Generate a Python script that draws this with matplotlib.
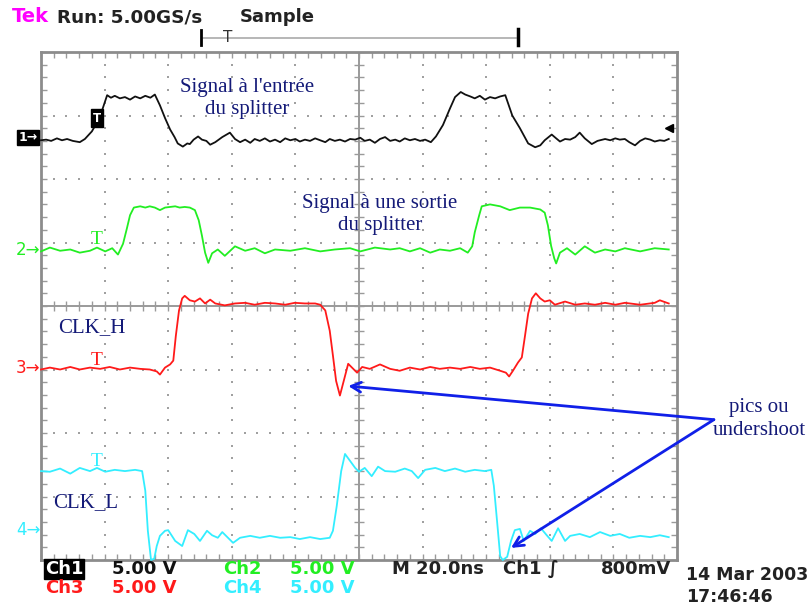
import matplotlib.pyplot as plt
from matplotlib.lines import Line2D
import numpy as np

# screen is 10 x 8 divisions, 20 ns/div, 5 V/div
# time in divisions from left edge, level in divisions from bottom edge
ch1_t = [0.00, 0.08, 0.16, 0.25, 0.33, 0.41, 0.50, 0.61, 0.69, 0.80, 0.88, 0.96, 1.04, 1.10, 1.16, 1.24,
         1.32, 1.40, 1.48, 1.56, 1.64, 1.72, 1.79, 1.87, 1.95, 2.03, 2.10, 2.15, 2.23, 2.30, 2.34, 2.40,
         2.47, 2.53, 2.60, 2.66, 2.74, 2.85, 2.97, 3.05, 3.13, 3.21, 3.29, 3.36, 3.44, 3.52, 3.60, 3.68,
         3.76, 3.84, 3.92, 4.00, 4.07, 4.15, 4.23, 4.31, 4.39, 4.47, 4.54, 4.62, 4.70, 4.78, 4.86, 4.94,
         5.02, 5.09, 5.17, 5.25, 5.33, 5.41, 5.49, 5.57, 5.64, 5.72, 5.80, 5.88, 5.96, 6.04, 6.13, 6.21,
         6.32, 6.43, 6.51, 6.60, 6.67, 6.75, 6.82, 6.90, 6.98, 7.06, 7.14, 7.22, 7.30, 7.41, 7.53, 7.66,
         7.77, 7.85, 7.92, 8.03, 8.10, 8.16, 8.24, 8.32, 8.40, 8.47, 8.55, 8.66, 8.75, 8.87, 8.95, 9.03,
         9.10, 9.18, 9.25, 9.34, 9.42, 9.50, 9.58, 9.65, 9.73, 9.80, 9.87]
ch1_v = [6.61, 6.62, 6.60, 6.64, 6.61, 6.63, 6.60, 6.58, 6.63, 6.75, 6.89, 7.08, 7.32, 7.28, 7.31, 7.27,
         7.29, 7.25, 7.30, 7.27, 7.31, 7.28, 7.33, 7.16, 6.96, 6.78, 6.66, 6.56, 6.51, 6.56, 6.55, 6.62,
         6.67, 6.62, 6.60, 6.54, 6.58, 6.66, 6.73, 6.63, 6.58, 6.62, 6.57, 6.63, 6.60, 6.64, 6.59, 6.62,
         6.58, 6.64, 6.61, 6.63, 6.59, 6.62, 6.60, 6.64, 6.61, 6.58, 6.63, 6.60, 6.62, 6.59, 6.63, 6.62,
         6.65, 6.60, 6.62, 6.57, 6.63, 6.66, 6.60, 6.62, 6.59, 6.64, 6.61, 6.63, 6.60, 6.62, 6.58, 6.67,
         6.85, 7.11, 7.29, 7.37, 7.33, 7.30, 7.27, 7.31, 7.25, 7.29, 7.27, 7.30, 7.32, 7.00, 6.80, 6.56,
         6.50, 6.53, 6.61, 6.70, 6.64, 6.59, 6.63, 6.62, 6.66, 6.73, 6.64, 6.55, 6.60, 6.63, 6.61, 6.64,
         6.62, 6.63, 6.58, 6.53, 6.60, 6.64, 6.62, 6.59, 6.61, 6.60, 6.63]

ch2_t = [0.00, 0.14, 0.30, 0.46, 0.61, 0.77, 0.88, 1.01, 1.12, 1.21, 1.29, 1.35, 1.40, 1.46, 1.56, 1.64,
         1.71, 1.79, 1.87, 1.95, 2.03, 2.11, 2.18, 2.26, 2.34, 2.42, 2.48, 2.53, 2.58, 2.63, 2.69, 2.78,
         2.89, 3.05, 3.21, 3.36, 3.52, 3.68, 3.92, 4.15, 4.39, 4.62, 4.86, 5.02, 5.25, 5.49, 5.64, 5.80,
         5.96, 6.12, 6.27, 6.43, 6.59, 6.71, 6.78, 6.82, 6.89, 6.93, 7.06, 7.22, 7.37, 7.53, 7.69, 7.85,
         7.92, 7.97, 8.02, 8.07, 8.10, 8.16, 8.27, 8.40, 8.55, 8.71, 8.87, 9.03, 9.18, 9.42, 9.65, 9.87]
ch2_v = [4.86, 4.92, 4.87, 4.89, 4.84, 4.87, 4.92, 4.86, 4.91, 4.81, 4.98, 5.22, 5.43, 5.55, 5.57, 5.55,
         5.57, 5.55, 5.51, 5.55, 5.56, 5.57, 5.55, 5.56, 5.55, 5.51, 5.35, 5.11, 4.84, 4.68, 4.83, 4.89,
         4.79, 4.94, 4.87, 4.91, 4.83, 4.89, 4.87, 4.91, 4.86, 4.89, 4.91, 4.86, 4.92, 4.89, 4.91, 4.86,
         4.91, 4.84, 4.89, 4.87, 4.91, 4.84, 4.94, 5.16, 5.43, 5.57, 5.60, 5.57, 5.51, 5.55, 5.55, 5.52,
         5.47, 5.27, 4.95, 4.75, 4.67, 4.84, 4.91, 4.81, 4.94, 4.84, 4.89, 4.86, 4.91, 4.86, 4.91, 4.89]

ch3_t = [0.00, 0.14, 0.30, 0.46, 0.61, 0.77, 0.93, 1.08, 1.24, 1.40, 1.56, 1.71, 1.82, 1.87, 1.95, 2.03,
         2.08, 2.12, 2.17, 2.22, 2.26, 2.34, 2.42, 2.50, 2.58, 2.66, 2.74, 2.89, 3.05, 3.21, 3.36, 3.52,
         3.68, 3.84, 3.99, 4.15, 4.31, 4.39, 4.47, 4.54, 4.59, 4.64, 4.70, 4.76, 4.83, 4.89, 4.97, 5.05,
         5.17, 5.33, 5.49, 5.64, 5.80, 5.96, 6.12, 6.27, 6.43, 6.59, 6.75, 6.90, 7.06, 7.22, 7.31, 7.36,
         7.42, 7.50, 7.56, 7.61, 7.66, 7.72, 7.78, 7.85, 7.92, 8.00, 8.08, 8.24, 8.40, 8.55, 8.71, 8.87,
         9.03, 9.18, 9.42, 9.65, 9.73, 9.87]
ch3_v = [3.00, 3.03, 3.00, 3.04, 3.00, 3.03, 3.01, 3.04, 3.00, 3.03, 3.01, 3.00, 2.97, 2.92, 3.03, 3.08,
         3.14, 3.53, 3.93, 4.12, 4.16, 4.09, 4.07, 4.12, 4.04, 4.10, 4.04, 4.01, 4.04, 4.05, 4.02, 4.05,
         4.04, 4.02, 4.05, 4.04, 4.04, 4.02, 3.93, 3.61, 3.22, 2.82, 2.59, 2.82, 3.09, 3.03, 2.95, 3.04,
         3.01, 3.08, 3.01, 2.98, 3.03, 3.00, 3.04, 3.01, 3.03, 3.01, 3.04, 3.01, 3.03, 2.98, 2.95, 2.89,
         2.98, 3.11, 3.19, 3.53, 3.88, 4.12, 4.20, 4.12, 4.07, 4.09, 4.02, 4.07, 4.02, 4.04, 4.02, 4.05,
         4.02, 4.05, 4.02, 4.05, 4.09, 4.04]

ch4_t = [0.00, 0.14, 0.30, 0.46, 0.61, 0.77, 0.88, 1.01, 1.16, 1.32, 1.48, 1.59, 1.64, 1.68, 1.73, 1.78,
         1.82, 1.87, 1.95, 2.00, 2.11, 2.22, 2.31, 2.41, 2.50, 2.61, 2.69, 2.78, 2.85, 2.94, 3.02, 3.13,
         3.29, 3.44, 3.60, 3.76, 3.92, 4.07, 4.23, 4.39, 4.54, 4.59, 4.65, 4.72, 4.78, 4.86, 4.94, 5.00,
         5.09, 5.20, 5.30, 5.41, 5.57, 5.72, 5.83, 5.93, 6.04, 6.20, 6.35, 6.51, 6.67, 6.82, 6.98, 7.08,
         7.12, 7.17, 7.22, 7.26, 7.33, 7.39, 7.45, 7.53, 7.59, 7.69, 7.77, 7.86, 7.96, 8.03, 8.13, 8.24,
         8.32, 8.47, 8.63, 8.79, 8.95, 9.10, 9.25, 9.42, 9.58, 9.73, 9.87]
ch4_v = [1.40, 1.39, 1.44, 1.36, 1.45, 1.40, 1.45, 1.39, 1.42, 1.40, 1.42, 1.40, 1.09, 0.46, 0.00, 0.02,
         0.22, 0.38, 0.46, 0.47, 0.30, 0.22, 0.47, 0.41, 0.30, 0.46, 0.39, 0.35, 0.44, 0.35, 0.27, 0.35,
         0.38, 0.35, 0.38, 0.35, 0.36, 0.33, 0.36, 0.33, 0.35, 0.46, 0.85, 1.40, 1.67, 1.56, 1.45, 1.39,
         1.45, 1.32, 1.47, 1.40, 1.39, 1.44, 1.40, 1.29, 1.42, 1.45, 1.40, 1.44, 1.39, 1.42, 1.40, 1.42,
         1.17, 0.62, 0.06, 0.00, 0.05, 0.30, 0.47, 0.49, 0.30, 0.46, 0.41, 0.50, 0.38, 0.30, 0.50, 0.30,
         0.38, 0.41, 0.36, 0.44, 0.38, 0.41, 0.35, 0.38, 0.36, 0.39, 0.36]

channels = ["1", "2", "3", "4"]
ch_colors = ["#111111", "#22ee22", "#ff1a1a", "#33eeff"]
ch_ground = [6.64, 4.87, 3.01, 0.46]
marker_top = [7.08, 5.18, 3.27, 1.69]
ch_labels = ["Ch1", "Ch2", "Ch3", "Ch4"]
ch_scales = ["5.00 V", "5.00 V", "5.00 V", "5.00 V"]

W, H = 812, 609
navy = "#141a78"
blue = "#1020e8"


def px(x, y):
    return x / W, 1 - y / H


fig = plt.figure(figsize=(W / 100, H / 100), dpi=100)
ax = fig.add_axes([41 / W, (H - 560) / H, 636 / W, 508 / H])
ax.set_xlim(0, 10)
ax.set_ylim(0, 8)

# graticule
sub = np.arange(0, 10.01, 0.2)
subv = np.arange(0, 8.01, 0.2)
for gx in range(1, 10):
    if gx != 5:
        ax.plot(np.full(len(subv), gx), subv, ls="none", marker="s", ms=1.5, color="#a0a0a0", mew=0)
for gy in range(1, 8):
    if gy != 4:
        ax.plot(sub, np.full(len(sub), gy), ls="none", marker="s", ms=1.5, color="#a0a0a0", mew=0)
ax.axvline(5, color="#9a9a9a", lw=1.4)
ax.axhline(4, color="#9a9a9a", lw=1.4)
ax.plot(sub, np.full(len(sub), 4), ls="none", marker="|", ms=7, color="#9a9a9a", mew=1)
ax.plot(np.full(len(subv), 5), subv, ls="none", marker="_", ms=7, color="#9a9a9a", mew=1)
ax.set_xticks(sub)
ax.set_yticks(subv)
ax.tick_params(direction="in", length=4, width=1, color="#9a9a9a", top=True, right=True,
               labelbottom=False, labelleft=False)
for s in ax.spines.values():
    s.set_color("#8c8c8c")
    s.set_linewidth(2)

# traces
traces = [(ch1_t, ch1_v), (ch2_t, ch2_v), (ch3_t, ch3_v), (ch4_t, ch4_v)]
for (t, v), c in zip(traces, ch_colors):
    ax.plot(t, v, color=c, lw=1.3, clip_on=False, zorder=3)

# trigger position markers
ax.text(0.88, 6.96, "T", color="white", fontsize=8.5, ha="center", va="center",
        fontweight="bold", bbox=dict(boxstyle="square,pad=0.2", fc="black", ec="black"), zorder=4)
for i in range(1, 4):
    ax.text(0.88, marker_top[i], "T", color=ch_colors[i], fontsize=14, ha="center", va="top",
            family="Liberation Serif", zorder=4)
ax.plot(9.87, 6.81, marker="<", ms=6, color="black", clip_on=False)

# channel ground markers
for i, ch in enumerate(channels):
    fx, fy = px(28, 559 - ch_ground[i] * 63.5)
    if i == 0:
        fig.text(fx, fy, ch + "\u2192", color="white", fontsize=9, fontweight="bold", ha="center",
                 va="center", bbox=dict(boxstyle="square,pad=0.1", fc="black", ec="black"))
    else:
        fig.text(fx, fy, ch + "\u2192", color=ch_colors[i], fontsize=12, ha="center", va="center")

# annotations
serif = dict(color=navy, fontsize=15, family="Liberation Serif")
ax.text(3.24, 7.27, "Signal à l'entrée\ndu splitter", ha="center", va="center", linespacing=1.22, **serif)
ax.text(5.33, 5.44, "Signal à une sortie\ndu splitter", ha="center", va="center", linespacing=1.22, **serif)
ax.text(0.27, 3.66, "CLK_H", ha="left", va="center", **serif)
ax.text(0.19, 0.90, "CLK_L", ha="left", va="center", **serif)
fig.text(*px(759, 419), "pics ou\nundershoot", ha="center", va="center", linespacing=1.22, **serif)

arrow = dict(arrowstyle="->,head_length=0.7,head_width=0.35", color=blue, lw=2, shrinkA=0, shrinkB=0)
ax.annotate("", xy=(4.83, 2.74), xytext=(10.58, 2.21), arrowprops=arrow, annotation_clip=False)
ax.annotate("", xy=(7.39, 0.19), xytext=(10.58, 2.21), arrowprops=arrow, annotation_clip=False)

# header
fig.text(*px(12, 17), "Tek", color="#ff00ff", fontsize=14, fontweight="bold", va="center")
fig.text(*px(57, 17), "Run: 5.00GS/s", color="#222222", fontsize=13.2, fontweight="bold", va="center")
fig.text(*px(240, 17), "Sample", color="#222222", fontsize=13, fontweight="bold", va="center")
fig.add_artist(Line2D([203 / W, 516 / W], [1 - 38 / H, 1 - 38 / H], color="#aaaaaa", lw=1.2))
fig.add_artist(Line2D([201 / W, 201 / W], [1 - 30 / H, 1 - 45 / H], color="black", lw=2))
fig.add_artist(Line2D([518 / W, 518 / W], [1 - 29 / H, 1 - 45 / H], color="black", lw=2.5))
fig.text(*px(228, 38), "T", color="#333333", fontsize=11, ha="center", va="center")

# footer
for i in range(4):
    ry = 569 if i < 2 else 588
    col_x = 45 if i in (0, 2) else 223
    kw = dict(fontsize=13, fontweight="bold", va="center", color=ch_colors[i])
    if i == 0:
        fig.text(*px(col_x, ry), ch_labels[i], color="white", fontsize=13, fontweight="bold", va="center",
                 bbox=dict(boxstyle="square,pad=0.05", fc="black", ec="black"))
    else:
        fig.text(*px(col_x, ry), ch_labels[i], **kw)
    fig.text(*px(col_x + 67, ry), ch_scales[i], **kw)
fig.text(*px(392, 569), "M 20.0ns", fontsize=13, fontweight="bold", va="center", color="#222222")
fig.text(*px(503, 569), "Ch1 \u222b", fontsize=13, fontweight="bold", va="center", color="#222222")
fig.text(*px(601, 569), "800mV", fontsize=13, fontweight="bold", va="center", color="#222222")
fig.text(*px(686, 575), "14 Mar 2003", fontsize=12.5, fontweight="bold", va="center", color="#222222")
fig.text(*px(686, 597), "17:46:46", fontsize=12.5, fontweight="bold", va="center", color="#222222")

fig.savefig("out.png", dpi=100)
